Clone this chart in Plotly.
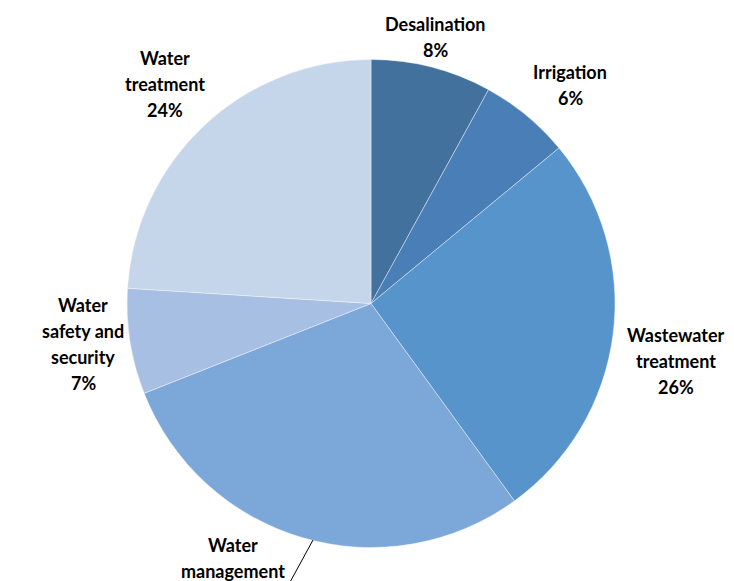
import plotly.graph_objects as go

# slice data, clockwise from 12 o'clock
labels = ['Desalination', 'Irrigation', 'Wastewater treatment', 'Water management',
          'Water safety and security', 'Water treatment']
label_lines = [['Desalination'], ['Irrigation'], ['Wastewater', 'treatment'], ['Water', 'management'],
               ['Water', 'safety and', 'security'], ['Water', 'treatment']]
values = [8, 6, 26, 29, 7, 24]
colors = ['#41719C', '#4A7EB6', '#5794CC', '#7BA7D9', '#A6BFE3', '#C5D5EA']

W, H = 734, 581
LINE = 26  # px between label lines

# first-line centre of each label in pixels (layout only)
label_pos = [(435, 24), (570, 72), (676, 335), (233, 545), (83, 305), (165, 58)]

fig = go.Figure(go.Pie(
    labels=labels, values=values, sort=False, direction='clockwise', rotation=0,
    marker=dict(colors=colors, line=dict(color='rgba(255,255,255,0.4)', width=1)),
    textinfo='none', showlegend=False,
    domain=dict(x=[127 / W, 615 / W], y=[1 - 548 / H, 1 - 59 / H]),
))

total = sum(values)
for (px, py), lines, v in zip(label_pos, label_lines, values):
    for i, t in enumerate(lines + [f'{round(100 * v / total)}%']):
        y = py + i * LINE
        if y > H:
            continue
        fig.add_annotation(x=px / W, y=1 - y / H, xref='paper', yref='paper',
                           text=f'<b>{t}</b>', showarrow=False,
                           font=dict(family='Lato', size=18, color='#000000'),
                           xanchor='center', yanchor='middle')

# leader line for Water management
fig.add_shape(type='line', xref='paper', yref='paper',
              x0=313 / W, y0=1 - 540 / H, x1=289 / W, y1=1 - 584 / H,
              line=dict(color='#000000', width=1))

fig.update_layout(width=W, height=H, margin=dict(l=0, r=0, t=0, b=0),
                  paper_bgcolor='white', plot_bgcolor='white')

fig.write_html("out.html", config={'displayModeBar': False},
               post_script="document.body.style.margin='0';")
